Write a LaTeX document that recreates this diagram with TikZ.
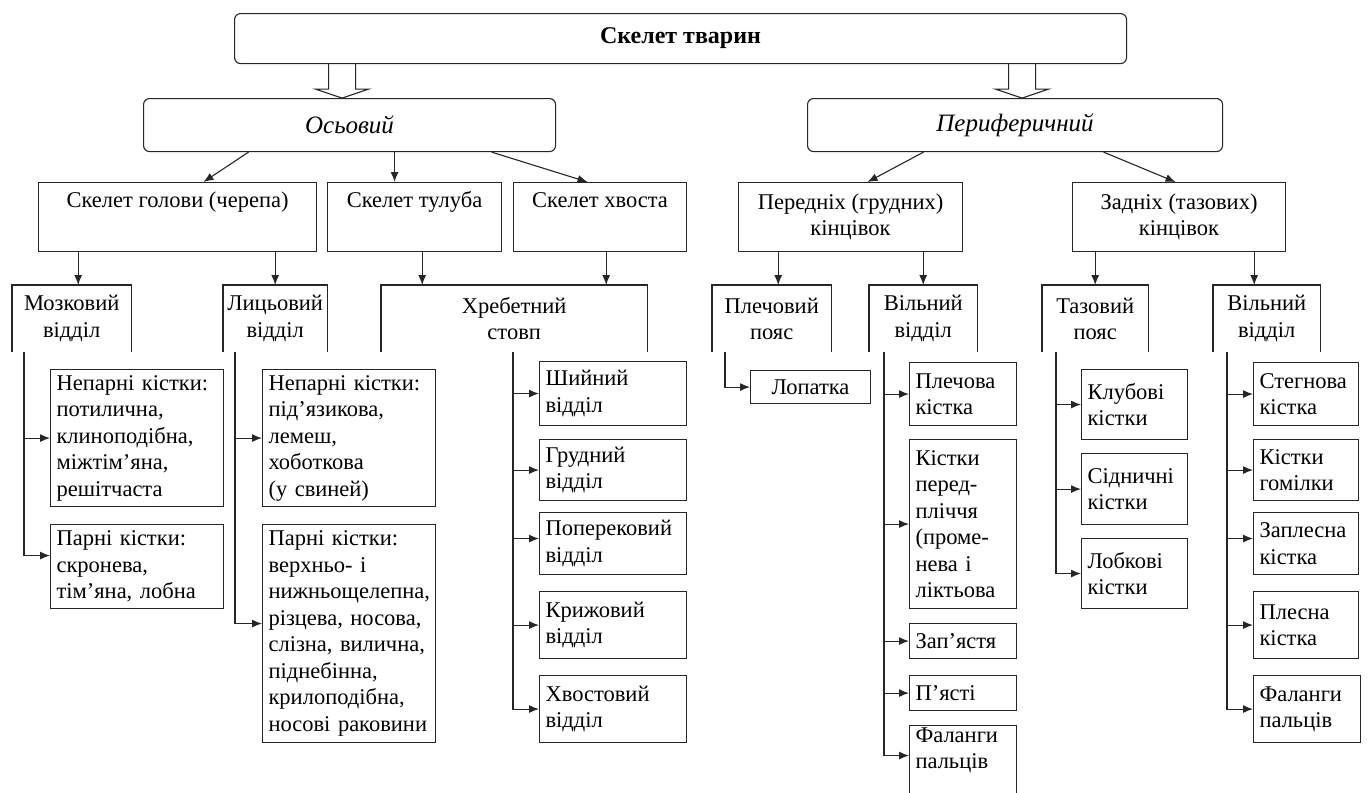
\documentclass[tikz,border=0pt]{standalone}
\usepackage{fontspec}
\setmainfont{Liberation Serif}
\usetikzlibrary{arrows.meta}
\hyphenpenalty=10000
\exhyphenpenalty=10000
\begin{document}
\begin{tikzpicture}[x=1pt,y=-1pt,
  ln/.style={draw=black!85, line width=1.1pt},
  arr/.style={ln, -{Latex[length=10pt,width=8pt]}},
  txt/.style={font=\fontsize{22.5}{26.5}\selectfont},
  rbox/.style={ln, rounded corners=6pt, anchor=north west, inner sep=0pt, minimum height=53pt},
  hbox/.style={ln, txt, anchor=north west, inner sep=0pt, minimum height=69pt, align=center},
  obox/.style={txt, anchor=north west, inner sep=0pt, minimum height=67pt, align=center},
  lbox/.style={ln, txt, anchor=north west, inner xsep=6pt, inner ysep=0pt, align=left},
  cbox/.style={ln, txt, anchor=north west, inner xsep=6pt, inner ysep=0pt, align=center},
]
\useasboundingbox (0,0) rectangle (1369,793);
\fill[white] (0,0) rectangle (1369,793);

% top level
\node[rbox, minimum width=892pt, minimum height=50pt, font=\bfseries\fontsize{24}{28}\selectfont] (top) at (234,13) {Скелет тварин};
\node[rbox, minimum width=412pt, font=\itshape\fontsize{25}{30}\selectfont] (os) at (143,98) {Осьовий};
\node[rbox, minimum width=415pt, font=\itshape\fontsize{25}{30}\selectfont] (per) at (807,98) {Периферичний};

% hollow arrows
\draw[ln, line join=miter] ([xshift=-352pt]top.south) -- ++(0,25) -- ++(-13,0) -- ++(26.5,9) -- ++(26.5,-9) -- ++(-13,0) -- ++(0,-25);
\draw[ln, line join=miter] ([xshift=328pt]top.south) -- ++(0,25) -- ++(-13,0) -- ++(26.5,9) -- ++(26.5,-9) -- ++(-13,0) -- ++(0,-25);

% row 2
\node[hbox, minimum width=278pt] (skg) at (38,182) {Скелет голови (черепа)\\\strut};
\node[hbox, minimum width=174pt] (skt) at (327,182) {Скелет тулуба\\\strut};
\node[hbox, minimum width=173pt] (skh) at (513,182) {Скелет хвоста\\\strut};
\node[hbox, minimum width=224pt] (pk) at (738,182) {Передніх (грудних)\\кінцівок};
\node[hbox, minimum width=213pt] (zk) at (1072,182) {Задніх (тазових)\\кінцівок};

\draw[arr] ([xshift=-101pt]os.south) -- ([xshift=26pt]skg.north);
\draw[arr] ([xshift=45pt]os.south) -- ([xshift=-20pt]skt.north);
\draw[arr] ([xshift=142pt]os.south) -- ([xshift=-12.5pt]skh.north);
\draw[arr] ([xshift=-91.5pt]per.south) -- ([xshift=17pt]pk.north);
\draw[arr] ([xshift=88.5pt]per.south) -- ([xshift=-3.5pt]zk.north);

% row 3 (open at the bottom)
\node[obox, minimum width=119pt] (moz) at (12,285) {Мозковий\\відділ};
\node[obox, minimum width=104pt] (lic) at (223,285) {Лицьовий\\відділ};
\node[obox, minimum width=266pt] (hr) at (381,285) {Хребетний\\стовп};
\node[obox, minimum width=119pt] (plp) at (712,285) {Плечовий\\пояс};
\node[obox, minimum width=108pt] (vf) at (869,285) {Вільний\\відділ};
\node[obox, minimum width=106pt] (tp) at (1042,285) {Тазовий\\пояс};
\node[obox, minimum width=107pt] (vh) at (1213,285) {Вільний\\відділ};
\foreach \n in {moz,lic,hr,plp,vf,tp,vh}
  \draw[ln] (\n.south west) -- (\n.north west) -- (\n.north east) -- (\n.south east);

\coordinate (a1) at ([xshift=6.5pt]moz.north);
\coordinate (a2) at (lic.north);
\coordinate (a3) at ([xshift=-92pt]hr.north);
\coordinate (a4) at ([xshift=92pt]hr.north);
\coordinate (a5) at ([xshift=6.5pt]plp.north);
\coordinate (a6) at (vf.north);
\coordinate (a7) at (tp.north);
\coordinate (a8) at ([xshift=-12.5pt]vh.north);
\draw[arr] (skg.south -| a1) -- (a1);
\draw[arr] (skg.south -| a2) -- (a2);
\draw[arr] (skt.south -| a3) -- (a3);
\draw[arr] (skh.south -| a4) -- (a4);
\draw[arr] (pk.south -| a5) -- (a5);
\draw[arr] (pk.south -| a6) -- (a6);
\draw[arr] (zk.south -| a7) -- (a7);
\draw[arr] (zk.south -| a8) -- (a8);

% row 4: skull
\node[lbox, text width=161pt, minimum height=137pt] (np1) at (50,369) {Непарні кістки:\\потилична,\\клиноподібна,\\міжтім'яна,\\решітчаста};
\node[lbox, text width=161pt, minimum height=84pt] (p1) at (50,524) {Парні кістки:\\скронева,\\тім'яна, лобна};
\node[lbox, text width=161pt, minimum height=137pt] (np2) at (262,369) {Непарні кістки:\\під'язикова,\\лемеш,\\хоботкова\\(у свиней)};
\node[lbox, text width=161pt, minimum height=218pt] (p2) at (262,524) {Парні кістки:\\верхньо- і\\нижньощелепна,\\різцева, носова,\\слізна, вилична,\\піднебінна,\\крилоподібна,\\носові раковини};

% row 4: vertebral column
\node[lbox, text width=135pt, minimum height=64pt] (sh) at (539,361) {Шийний\\відділ};
\node[lbox, text width=135pt, minimum height=61pt] (gr) at (539,439) {Грудний\\відділ};
\node[lbox, text width=135pt, minimum height=62pt] (pop) at (539,512) {Поперековий\\відділ};
\node[lbox, text width=135pt, minimum height=67pt] (kr) at (539,591) {Крижовий\\відділ};
\node[lbox, text width=135pt, minimum height=67pt] (hv) at (539,675) {Хвостовий\\відділ};

% row 4: fore limb
\node[cbox, text width=108pt, minimum height=33pt] (lop) at (750,370) {Лопатка};
\node[lbox, text width=95pt, minimum height=63pt] (plk) at (909,362) {Плечова\\кістка};
\node[lbox, text width=95pt, minimum height=169pt] (kp) at (909,439) {Кістки\\перед-\\пліччя\\(проме-\\нева і\\ліктьова};
\node[lbox, text width=95pt, minimum height=35pt] (zap) at (909,623) {Зап'ястя};
\node[lbox, text width=95pt, minimum height=35pt] (pya) at (909,675) {П'ясті};
\node[lbox, text width=95pt, minimum height=80pt] (fal1) at (909,725) {Фаланги\\пальців\\\strut};

% row 4: hind limb
\node[lbox, text width=94pt, minimum height=70pt] (klub) at (1081,369) {Клубові\\кістки};
\node[lbox, text width=94pt, minimum height=71pt] (sid) at (1081,453) {Сідничні\\кістки};
\node[lbox, text width=94pt, minimum height=70pt] (lob) at (1081,538) {Лобкові\\кістки};
\node[lbox, text width=93pt, minimum height=63pt] (steg) at (1253,362) {Стегнова\\кістка};
\node[lbox, text width=93pt, minimum height=61pt] (gom) at (1253,439) {Кістки\\гомілки};
\node[lbox, text width=93pt, minimum height=62pt] (zapl) at (1253,512) {Заплесна\\кістка};
\node[lbox, text width=93pt, minimum height=67pt] (pl) at (1253,591) {Плесна\\кістка};
\node[lbox, text width=95pt, minimum height=67pt] (fal2) at (1253,675) {Фаланги\\пальців};

% trunks and branches
\coordinate (tm) at ([xshift=12pt]moz.south west);
\draw[arr] (tm) |- (np1.west);
\draw[arr] (tm) |- ([yshift=11pt]p1.west);
\coordinate (tl) at ([xshift=12pt]lic.south west);
\draw[arr] (tl) |- (np2.west);
\draw[arr] (tl) |- ([yshift=10pt]p2.west);
\coordinate (th) at ([xshift=132pt]hr.south west);
\draw[arr] (th) |- (sh.west);
\draw[arr] (th) |- (gr.west);
\draw[arr] (th) |- ([yshift=5pt]pop.west);
\draw[arr] (th) |- (kr.west);
\draw[arr] (th) |- (hv.west);
\coordinate (tpl) at ([xshift=13pt]plp.south west);
\draw[arr] (tpl) |- (lop.west);
\coordinate (tvf) at ([xshift=15pt]vf.south west);
\draw[arr] (tvf) |- (plk.west);
\draw[arr] (tvf) |- (kp.west);
\draw[arr] (tvf) |- (zap.west);
\draw[arr] (tvf) |- (pya.west);
\draw[arr] (tvf) |- ([yshift=10pt]fal1.west);
\coordinate (ttp) at ([xshift=14pt]tp.south west);
\draw[arr] (ttp) |- (klub.west);
\draw[arr] (ttp) |- (sid.west);
\draw[arr] (ttp) |- (lob.west);
\coordinate (tvh) at ([xshift=14pt]vh.south west);
\draw[arr] (tvh) |- (steg.west);
\draw[arr] (tvh) |- (gom.west);
\draw[arr] (tvh) |- ([yshift=5pt]zapl.west);
\draw[arr] (tvh) |- (pl.west);
\draw[arr] (tvh) |- (fal2.west);
\end{tikzpicture}
\end{document}
